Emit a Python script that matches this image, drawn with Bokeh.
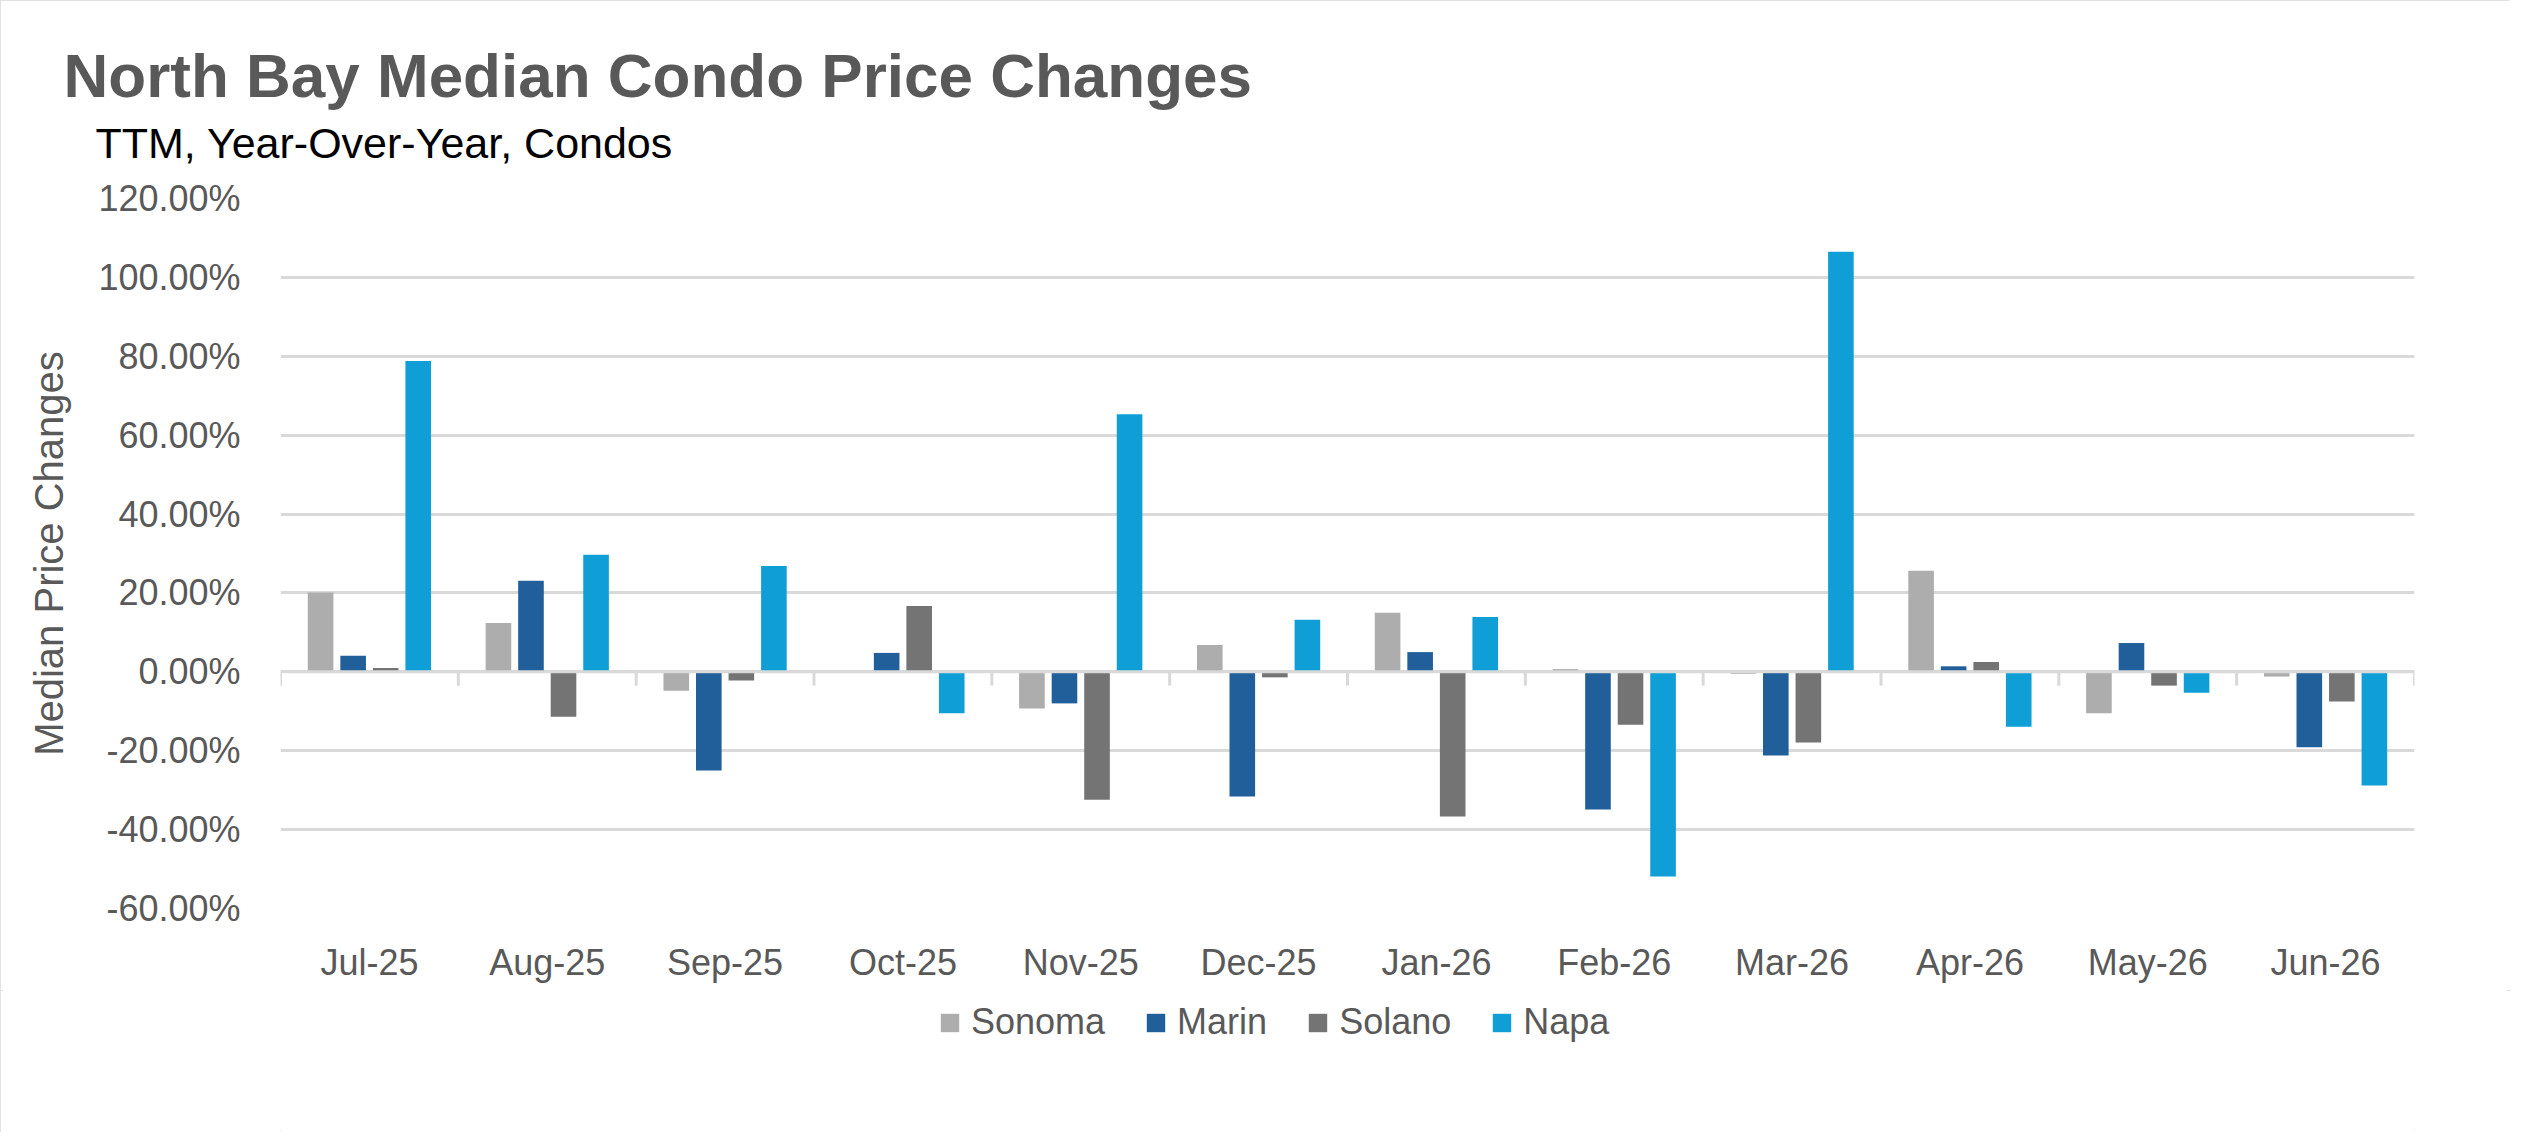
from bokeh.plotting import figure
from bokeh.layouts import column
from bokeh.models import (ColumnDataSource, Range1d, FixedTicker, NumeralTickFormatter,
                          Span, Title, Legend, LegendItem)
from bokeh.transform import dodge
from bokeh.embed import file_html
from bokeh.resources import INLINE

# ---------------- data ----------------
months = ["Jul-25", "Aug-25", "Sep-25", "Oct-25", "Nov-25", "Dec-25",
          "Jan-26", "Feb-26", "Mar-26", "Apr-26", "May-26", "Jun-26"]
sonoma = [0.201, 0.124, -0.048, 0.000, -0.093, 0.068, 0.150, 0.007, -0.005, 0.256, -0.105, -0.012]
marin = [0.041, 0.231, -0.250, 0.048, -0.080, -0.316, 0.050, -0.349, -0.212, 0.014, 0.073, -0.191]
solano = [0.010, -0.114, -0.022, 0.167, -0.324, -0.014, -0.367, -0.134, -0.179, 0.025, -0.035, -0.075]
napa = [0.788, 0.297, 0.268, -0.105, 0.653, 0.132, 0.139, -0.519, 1.065, -0.139, -0.053, -0.288]
series_names = ["Sonoma", "Marin", "Solano", "Napa"]
yticks = [-0.6, -0.4, -0.2, 0.0, 0.2, 0.4, 0.6, 0.8, 1.0, 1.2]

# ---------------- styles ----------------
FONT = "Liberation Sans"
TXT = "#595959"
GRID = "#D9D9D9"
colors = ["#ADADAD", "#215F9A", "#747474", "#0F9ED5"]
offsets = [-0.2745, -0.0915, 0.0915, 0.2745]
BAR_W = 0.144
W, H_MAIN, H_LEG = 2510, 990, 142

xpos = list(range(1, len(months) + 1))
src = ColumnDataSource(dict(x=xpos, Sonoma=sonoma, Marin=marin, Solano=solano, Napa=napa))

p = figure(width=W, height=H_MAIN, output_backend="svg", toolbar_location=None,
           x_range=Range1d(0.5, len(months) + 0.5), y_range=Range1d(yticks[0], yticks[-1]),
           min_border_left=280, min_border_right=96, min_border_top=198, min_border_bottom=82)
p.title = None
p.outline_line_color = None
p.background_fill_color = "white"
p.border_fill_color = "white"

# grid
p.xgrid.visible = False
p.ygrid.ticker = FixedTicker(ticks=yticks)
p.ygrid.grid_line_color = GRID
p.ygrid.grid_line_width = 3

# bars
for name, color, off in zip(series_names, colors, offsets):
    p.vbar(x=dodge("x", off), top=name, bottom=0, width=BAR_W, source=src,
           fill_color=color, line_color=None)

# zero axis line and category boundary ticks
p.add_layout(Span(location=0, dimension="width", line_color=GRID, line_width=3))
bounds = [i + 0.5 for i in range(len(months) + 1)]
p.segment(x0=bounds, x1=bounds, y0=[0] * len(bounds), y1=[-0.035] * len(bounds),
          line_color=GRID, line_width=3)

# y axis
ya = p.yaxis[0]
ya.ticker = FixedTicker(ticks=yticks)
ya.formatter = NumeralTickFormatter(format="0.00%")
ya.major_label_text_font = FONT
ya.major_label_text_font_size = "36px"
ya.major_label_text_color = TXT
ya.major_label_standoff = 40
ya.major_tick_out = 0
ya.major_tick_in = 0
ya.minor_tick_out = 0
ya.minor_tick_in = 0
ya.axis_line_color = None
ya.axis_label = "Median Price Changes"
ya.axis_label_text_font = FONT
ya.axis_label_text_font_size = "40px"
ya.axis_label_text_font_style = "normal"
ya.axis_label_text_color = TXT
ya.axis_label_standoff = 24

# x axis
xa = p.xaxis[0]
xa.ticker = FixedTicker(ticks=xpos)
xa.major_label_overrides = {i: m for i, m in zip(xpos, months)}
xa.major_label_text_font = FONT
xa.major_label_text_font_size = "36px"
xa.major_label_text_color = TXT
xa.major_label_standoff = 33
xa.major_tick_out = 0
xa.major_tick_in = 0
xa.minor_tick_out = 0
xa.minor_tick_in = 0
xa.axis_line_color = None

# titles (stacked upward from the frame: spacer, subtitle, title)
p.add_layout(Title(text=" ", text_font=FONT, text_font_size="10px", standoff=19), "above")
p.add_layout(Title(text="TTM, Year-Over-Year, Condos", align="left", offset=-185, standoff=0,
                   text_font=FONT, text_font_size="43px", text_font_style="normal",
                   text_color="black"), "above")
p.add_layout(Title(text="North Bay Median Condo Price Changes", align="left", offset=-217,
                   standoff=14, text_font=FONT, text_font_size="62px", text_font_style="bold",
                   text_color=TXT), "above")

# legend strip below the chart; its renderers share the series data but lie outside its view
lf = figure(width=W, height=H_LEG, output_backend="svg", toolbar_location=None,
            x_range=Range1d(100, 101), y_range=Range1d(100, 101),
            x_axis_location=None, y_axis_location=None,
            min_border_left=0, min_border_right=0, min_border_top=0, min_border_bottom=0)
lf.title = None
lf.outline_line_color = None
lf.xgrid.visible = False
lf.ygrid.visible = False
lf.background_fill_color = "white"
lf.border_fill_color = "white"
items = []
for name, color, off in zip(series_names, colors, offsets):
    r = lf.vbar(x=dodge("x", off), top=name, bottom=0, width=BAR_W, source=src,
                fill_color=color, line_color=None)
    items.append(LegendItem(label=name, renderers=[r]))
legend = Legend(items=items, location=(658, 89), orientation="horizontal",
                glyph_width=23, glyph_height=23, label_standoff=10, spacing=39,
                padding=0, margin=0, border_line_color=None, background_fill_alpha=0,
                label_text_font=FONT, label_text_font_size="36px", label_text_color=TXT)
lf.add_layout(legend)

layout = column(p, lf, spacing=0)
layout.styles = {"outline": "3px solid #D9D9D9", "outline-offset": "-3px"}

open("out.html", "w").write(file_html(layout, INLINE))
